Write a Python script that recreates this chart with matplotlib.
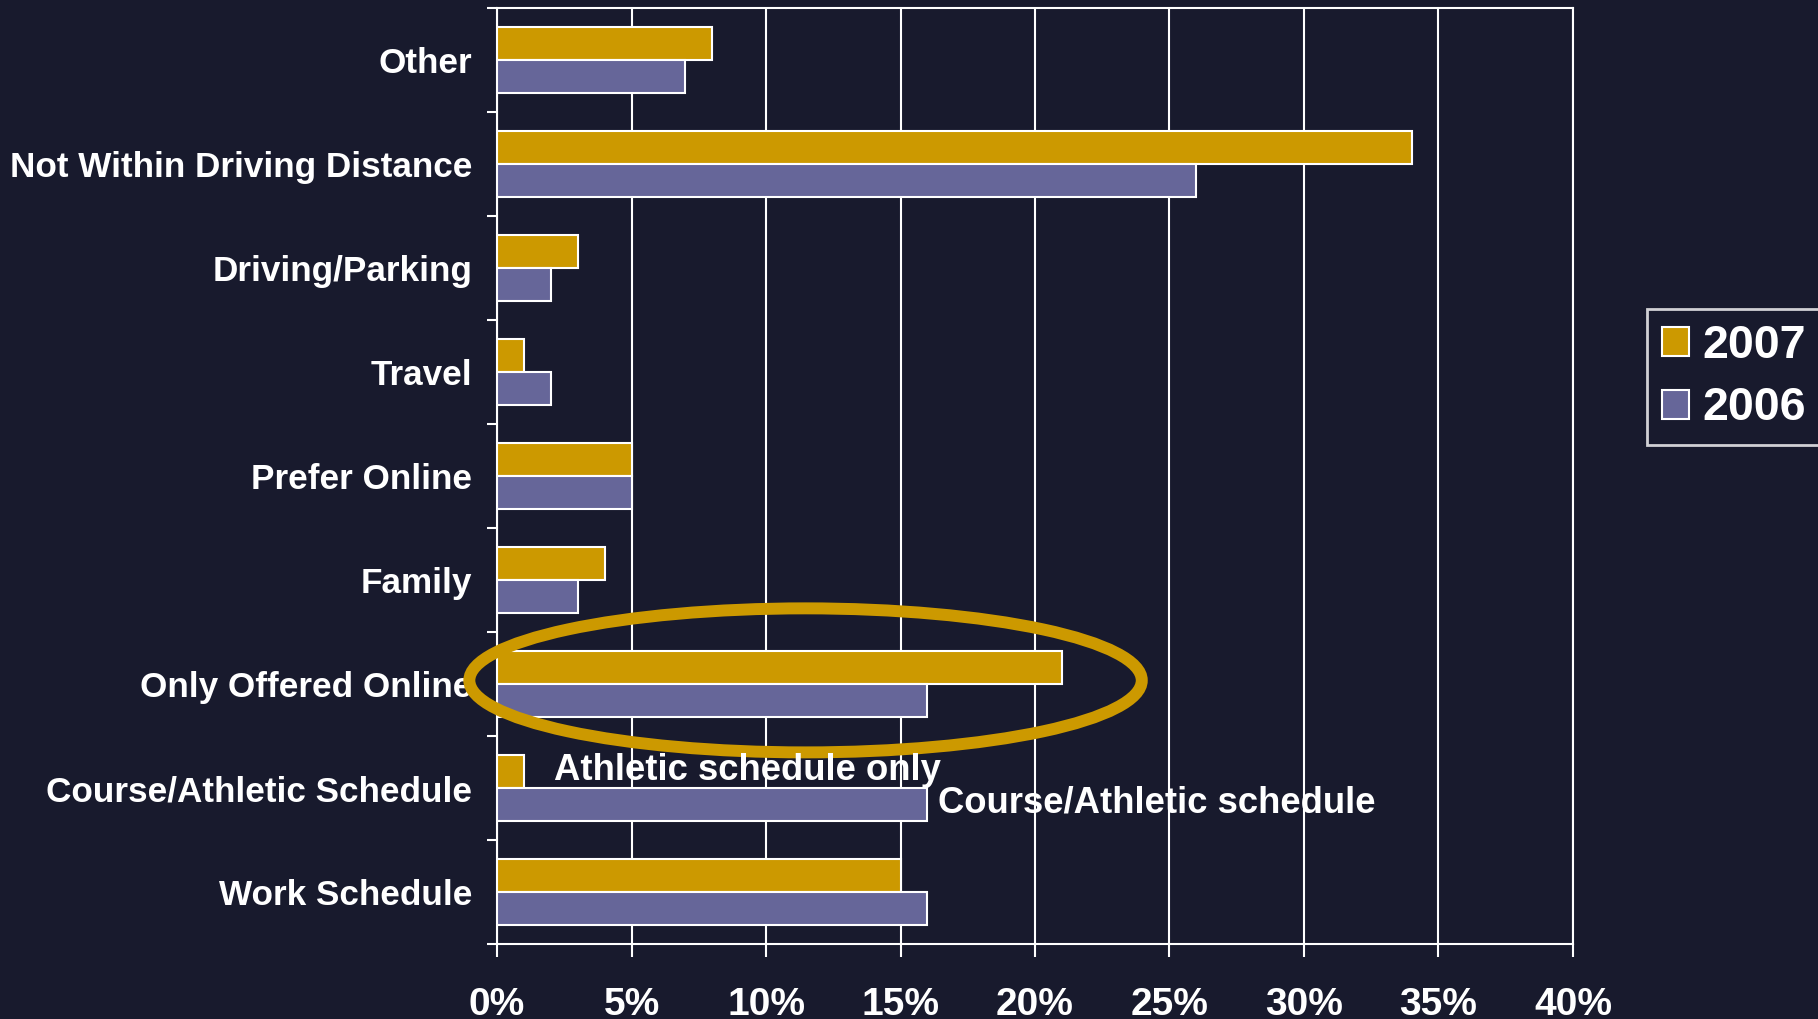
import matplotlib.pyplot as plt
from matplotlib.patches import Ellipse
from matplotlib.ticker import FixedLocator
import numpy as np

# Dane (od dołu do góry)
categories = ['Work Schedule', 'Course/Athletic Schedule', 'Only Offered Online',
              'Family', 'Prefer Online', 'Travel', 'Driving/Parking',
              'Not Within Driving Distance', 'Other']
values_2007 = [15, 1, 21, 4, 5, 1, 3, 34, 8]
values_2006 = [16, 16, 16, 3, 5, 2, 2, 26, 7]
x_ticks = [0, 5, 10, 15, 20, 25, 30, 35, 40]
x_tick_labels = ['0%', '5%', '10%', '15%', '20%', '25%', '30%', '35%', '40%']

bg = '#181a2d'
gold = '#cc9900'
purple = '#666699'

plt.rcParams['font.family'] = ['Liberation Sans', 'DejaVu Sans']
plt.rcParams['font.weight'] = 'bold'

fig = plt.figure(figsize=(18.18, 10.19), dpi=100, facecolor=bg)
ax = fig.add_axes([0.2734, 0.0736, 0.8652 - 0.2734, 0.9921 - 0.0736], facecolor=bg)

y = np.arange(len(categories))
h = 0.32
ax.barh(y + h / 2, values_2007, height=h, color=gold, edgecolor='white', linewidth=1.5,
        label='2007', zorder=3)
ax.barh(y - h / 2, values_2006, height=h, color=purple, edgecolor='white', linewidth=1.5,
        label='2006', zorder=3)

ax.set_xlim(0, 40)
ax.set_ylim(-0.5, len(categories) - 0.5)
ax.set_xticks(x_ticks)
ax.set_xticklabels(x_tick_labels)
ax.set_yticks(y)
ax.set_yticklabels(categories)
ax.yaxis.set_minor_locator(FixedLocator(np.arange(-0.5, len(categories), 1)))

ax.xaxis.grid(True, color='white', linewidth=1.5, zorder=0)
ax.set_axisbelow(True)
for s in ax.spines.values():
    s.set_color('white')
    s.set_linewidth(1.5)

ax.tick_params(axis='x', colors='white', labelsize=28, length=9, width=1.5, pad=22)
ax.tick_params(axis='y', which='major', colors='white', labelsize=25.3, length=0, pad=18)
ax.tick_params(axis='y', which='minor', colors='white', length=7, width=1.5)

# Adnotacje
ax.text(2.1, 1.17, 'Athletic schedule only', color='white', fontsize=26.3, fontweight='bold',
        va='center', ha='left', zorder=5)
ax.text(16.4, 0.86, 'Course/Athletic schedule', color='white', fontsize=26.3, fontweight='bold',
        va='center', ha='left', zorder=5)

ell = Ellipse((11.47, 2.035), 25.0, 1.385, fill=False, edgecolor=gold, linewidth=8.6,
              zorder=4, clip_on=False)
ax.add_patch(ell)

leg = fig.legend(loc='upper left', bbox_to_anchor=(1647 / 1818, 1 - 309 / 1019),
                 fontsize=33.5, frameon=True, fancybox=False, handlelength=0.58,
                 handleheight=0.58, handletextpad=0.3, borderpad=0.32, labelspacing=0.4,
                 borderaxespad=0)
leg.get_frame().set_facecolor(bg)
leg.get_frame().set_edgecolor('white')
leg.get_frame().set_linewidth(2)
for t in leg.get_texts():
    t.set_color('white')

fig.savefig('out.png', dpi=100, facecolor=bg)
